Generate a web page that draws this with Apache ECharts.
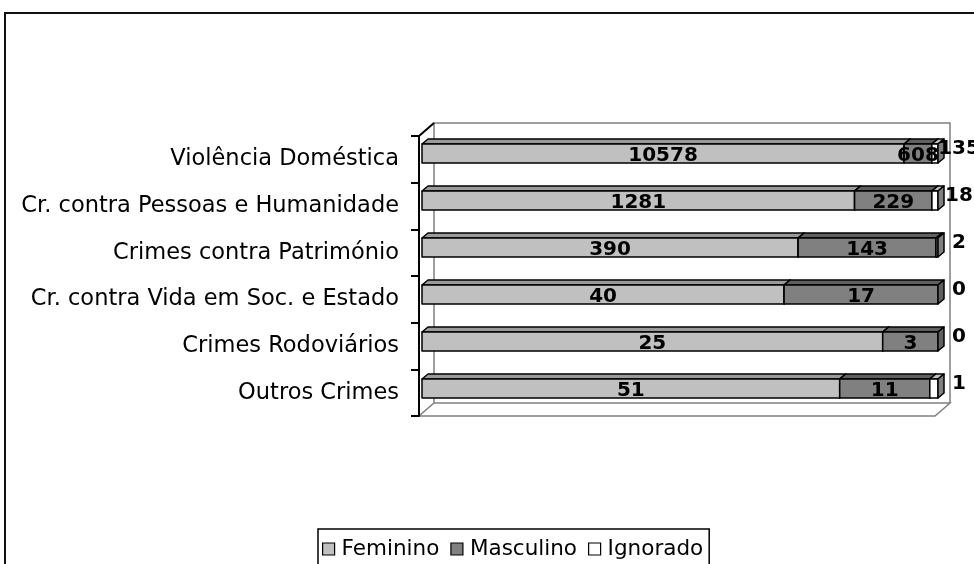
<!DOCTYPE html>
<html>
<head>
<meta charset="utf-8">
<script src="https://cdn.jsdelivr.net/npm/echarts@6/dist/echarts.min.js"></script>
<style>
  html, body { margin: 0; padding: 0; background: #fff; }
  #chart { width: 974px; height: 564px; }
</style>
</head>
<body>
<div id="chart"></div>
<script>
// categorias (de cima para baixo)
var categories = [
  "Violência Doméstica",
  "Cr. contra Pessoas e Humanidade",
  "Crimes contra Património",
  "Cr. contra Vida em Soc. e Estado",
  "Crimes Rodoviários",
  "Outros Crimes"
];
var feminino = [10578, 1281, 390, 40, 25, 51];
var masculino = [608, 229, 143, 17, 3, 11];
var ignorado = [135, 18, 2, 0, 0, 1];
var seriesNames = ["Feminino", "Masculino", "Ignorado"];

var FONT = "DejaVu Sans";
var BAR_H = 19;
var DX = 6, DY = -5; // profundidade das barras
// plano da frente / parede do fundo
var FRONT = { left: 419, top: 136, right: 935, bottom: 416 };
var WALL = { dx: 15, dy: -13 };

// converter para percentagens empilhadas
var all = [feminino, masculino, ignorado];
function buildData(k) {
  return categories.map(function (c, i) {
    var total = feminino[i] + masculino[i] + ignorado[i];
    var start = 0;
    for (var j = 0; j < k; j++) start += all[j][i] / total * 100;
    var end = start + all[k][i] / total * 100;
    return [start, end, i, all[k][i]];
  });
}

var faceColors = ["#c0c0c0", "#808080", "#ffffff"];
var topColors = ["#9a9a9a", "#606060", "#c0c0c0"];
var capColors = ["#9a9a9a", "#606060", "#808080"];

function makeRender(k) {
  return function (params, api) {
    var s = api.value(0), e = api.value(1), idx = api.value(2), val = api.value(3);
    var p0 = api.coord([s, idx]);
    var p1 = api.coord([e, idx]);
    var pEnd = api.coord([100, idx]);
    var x0 = p0[0], x1 = p1[0];
    var y0 = p0[1] - BAR_H / 2, y1 = p0[1] + BAR_H / 2;
    var line = { stroke: "#000", lineWidth: 1.5, lineJoin: "round" };
    var children = [];
    if (e - s > 0) {
      children.push({
        type: "polygon",
        shape: { points: [[x0, y0], [x0 + DX, y0 + DY], [x1 + DX, y0 + DY], [x1, y0]] },
        style: Object.assign({ fill: topColors[k] }, line)
      });
      children.push({
        type: "rect",
        shape: { x: x0, y: y0, width: x1 - x0, height: BAR_H },
        style: Object.assign({ fill: faceColors[k] }, line)
      });
      children.push({
        type: "polygon",
        shape: { points: [[x1, y0], [x1 + DX, y0 + DY], [x1 + DX, y1 + DY], [x1, y1]] },
        style: Object.assign({ fill: capColors[k] }, line)
      });
    }
    var tx, ty;
    if (k < 2) {
      tx = (x0 + x1) / 2;
      ty = p0[1] + 2;
    } else {
      tx = pEnd[0] + 21;
      ty = p0[1] - 5;
    }
    children.push({
      type: "text",
      z2: 10,
      style: {
        text: String(val),
        x: tx, y: ty,
        align: "center", verticalAlign: "middle",
        fill: "#000",
        font: "bold 20px '" + FONT + "'"
      }
    });
    return { type: "group", children: children };
  };
}

var series = seriesNames.map(function (name, k) {
  return {
    name: name,
    type: "custom",
    xAxisIndex: 0,
    yAxisIndex: 0,
    renderItem: makeRender(k),
    itemStyle: { color: faceColors[k], borderColor: "#000", borderWidth: 1 },
    encode: { x: [0, 1], y: 2 },
    data: buildData(k)
  };
});

// parede do fundo e chão
var bx0 = FRONT.left + WALL.dx, by0 = FRONT.top + WALL.dy;
var bx1 = FRONT.right + WALL.dx, by1 = FRONT.bottom + WALL.dy;
var wallStyle = { stroke: "#808080", lineWidth: 1.5, fill: null };
var graphics = [
  {
    type: "rect",
    shape: { x: 5, y: 13, width: 1000, height: 600 },
    style: { stroke: "#111", lineWidth: 2, fill: null }
  },
  {
    type: "polyline",
    shape: { points: [[bx0, by1], [bx0, by0], [bx1, by0], [bx1, by1]] },
    style: wallStyle
  },
  {
    type: "polygon",
    shape: { points: [[FRONT.left, FRONT.bottom], [FRONT.right, FRONT.bottom], [bx1, by1], [bx0, by1]] },
    style: wallStyle
  },
  {
    type: "line",
    shape: { x1: FRONT.left, y1: FRONT.top, x2: bx0, y2: by0 },
    style: { stroke: "#000", lineWidth: 2 }
  }
];

var myChart = echarts.init(document.getElementById("chart"));
var option = {
  backgroundColor: "#fff",
  animation: false,
  textStyle: { fontFamily: FONT },
  grid: [
    // grelha das barras
    { left: 422, right: 36, top: 130, bottom: 152 },
    // eixo das categorias (plano da frente)
    { left: FRONT.left, right: 974 - FRONT.right, top: FRONT.top, bottom: 564 - FRONT.bottom }
  ],
  xAxis: [
    { gridIndex: 0, type: "value", min: 0, max: 100, show: false },
    { gridIndex: 1, type: "value", min: 0, max: 100, show: false }
  ],
  yAxis: [
    { gridIndex: 0, type: "category", data: categories, inverse: true, show: false },
    {
      gridIndex: 1,
      type: "category",
      data: categories,
      inverse: true,
      axisLine: { show: true, lineStyle: { color: "#000", width: 2 } },
      axisTick: { show: true, length: 8, lineStyle: { color: "#000", width: 2 } },
      axisLabel: { color: "#000", fontSize: 22.5, fontFamily: FONT, margin: 20 },
      splitLine: { show: false }
    }
  ],
  legend: {
    data: seriesNames.map(function (n, k) {
      return { name: n, icon: "rect", itemStyle: { color: faceColors[k], borderColor: "#000", borderWidth: 1.2 } };
    }),
    left: 318,
    top: 529,
    orient: "horizontal",
    padding: [9, 6, 12, 4],
    itemGap: 11,
    itemWidth: 12,
    itemHeight: 12,
    borderColor: "#000",
    borderWidth: 1.5,
    textStyle: { color: "#000", fontSize: 21.5, fontFamily: FONT, padding: [0, 0, 0, 2] },
    selectedMode: false
  },
  graphic: graphics,
  series: series
};
myChart.setOption(option);
</script>
</body>
</html>
